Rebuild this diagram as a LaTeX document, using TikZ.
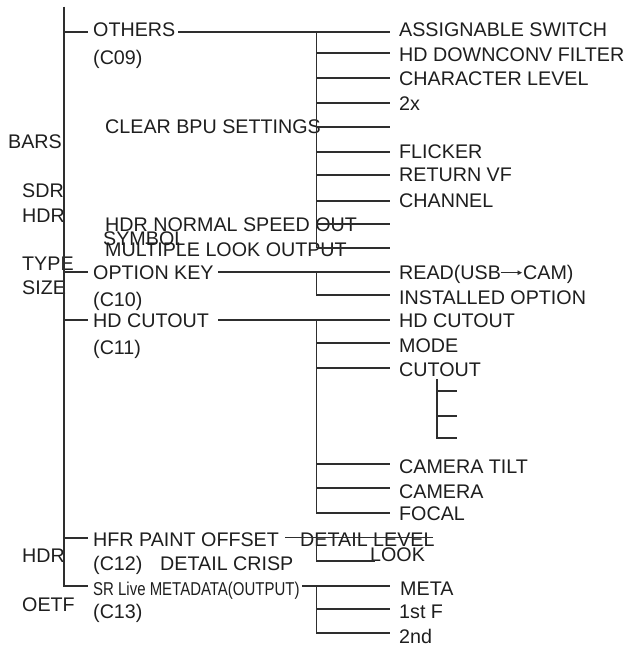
\documentclass[tikz,border=0pt]{standalone}
\usepackage{fontspec}
\usepackage{graphicx}
\setmainfont{Liberation Sans}
\usetikzlibrary{arrows.meta}
\definecolor{ink}{HTML}{1E1E1E}
\definecolor{wirec}{HTML}{2E2E2E}
\begin{document}
\begin{tikzpicture}[x=1pt,y=-1pt,
  lbl/.style={anchor=base west, inner sep=0pt, text=ink, font=\fontsize{19.7}{21}\selectfont},
  wire/.style={draw=wirec, line width=1.9pt, line cap=butt},
  thinarrow/.style={draw=wirec, line width=0.9pt, -{Triangle[length=4.5pt,width=4.5pt]}}]
\useasboundingbox (0,0) rectangle (631,646);

% ---------- left labels ----------
\node[lbl] (bars) at (8,148) {BARS};
\node[lbl] (sdr) at (22,197.7) {SDR};
\node[lbl] (hdra) at (22,222.7) {HDR};
\node[lbl] (type) at (22,270.7) {TYPE};
\node[lbl] (size) at (22,294.3) {SIZE};
\node[lbl] (hdrb) at (22,562.7) {HDR};
\node[lbl] (oetf) at (22,611.7) {OETF};

% ---------- second column ----------
\node[lbl] (others) at (93,36) {OTHERS};
\node[lbl] (c09) at (93,64) {(C09)};
\node[lbl] (clear) at (105,133) {CLEAR BPU SETTINGS};
\node[lbl] (hdrnorm) at (105,231) {HDR NORMAL SPEED OUT};
\node[lbl] (symbol) at (103,245) {SYMBOL};
\node[lbl] (mlook) at (105,256) {MULTIPLE LOOK OUTPUT};
\node[lbl] (optkey) at (93,279) {OPTION KEY};
\node[lbl] (c10) at (93,306) {(C10)};
\node[lbl] (hdcut) at (93,327) {HD CUTOUT};
\node[lbl] (c11) at (93,354) {(C11)};
\node[lbl] (hfr) at (93,546.7) {HFR PAINT OFFSET};
\node[lbl] (c12) at (93,570) {(C12)};
\node[lbl] (crisp) at (160,570) {DETAIL CRISP};
\node[lbl] (srlive) at (93,595) {\fontsize{18.6}{20}\selectfont\scalebox{0.805}[1]{SR Live METADATA(OUTPUT)}};
\node[lbl] (c13) at (93,618) {(C13)};

% ---------- right column ----------
\node[lbl] (assign) at (399,36) {ASSIGNABLE SWITCH};
\node[lbl] (downconv) at (399,61) {HD DOWNCONV FILTER};
\node[lbl] (charlvl) at (399,85) {CHARACTER LEVEL};
\node[lbl] (twox) at (399,110) {2x};
\node[lbl] (flicker) at (399,158) {FLICKER};
\node[lbl] (retvf) at (399,181.7) {RETURN VF};
\node[lbl] (channel) at (399,207) {CHANNEL};
\node[lbl] (reada) at (399,279) {READ(USB};
\node[lbl] (readb) at (523,279) {CAM)};
\node[lbl] (installed) at (399,304) {INSTALLED OPTION};
\node[lbl] (hdcutr) at (399,327) {HD CUTOUT};
\node[lbl] (mode) at (399,352) {MODE};
\node[lbl] (cutout) at (399,376) {CUTOUT};
\node[lbl] (camtilt) at (399,473) {CAMERA TILT};
\node[lbl] (camera) at (399,498) {CAMERA};
\node[lbl] (focal) at (399,520.7) {FOCAL};
\node[lbl] (dlevel) at (300,546.7) {DETAIL LEVEL};
\node[lbl] (look) at (370,561.7) {LOOK};
\node[lbl] (meta) at (400,595) {META};
\node[lbl] (firstf) at (399,618) {1st F};
\node[lbl] (second) at (399,643) {2nd};

% ---------- junction coordinates ----------
\coordinate (ttop) at (64,6.7);
\coordinate (tbot) at (64,586);
\coordinate (vo) at (316.5,31.7);
\coordinate (vk) at (316.5,271.7);
\coordinate (vh) at (316.5,320);
\coordinate (vf) at (316.5,537.5);
\coordinate (vs) at (316.5,586);
\coordinate (sub) at (437,379);

% ---------- trunk ----------
\draw[wire] (ttop) -- (tbot) -- (88,586);
\draw[wire] (64,31.7) -- (88,31.7);
\draw[wire] (64,271.7) -- (88,271.7);
\draw[wire] (64,320) -- (88,320);
\draw[wire] (64,538) -- (88,538);

% ---------- OTHERS ----------
\draw[wire] (178,31.7) -- (390,31.7);
\draw[wire] (vo) -- (316.5,247.7);
\foreach \yy in {53.3,78.3,103.3,126.7,151.7,175,200.7,224,247.7}
  \draw[wire] (316.5,\yy) -- (390,\yy);

% ---------- OPTION KEY ----------
\draw[wire] (218,271.7) -- (390,271.7);
\draw[wire] (vk) -- (316.5,295) -- (390,295);
\draw[thinarrow] (501,272.7) -- (522,272.7);

% ---------- HD CUTOUT ----------
\draw[wire] (218,320) -- (390,320);
\draw[wire] (vh) -- (316.5,513) -- (390,513);
\foreach \yy in {343,368,464,488}
  \draw[wire] (316.5,\yy) -- (390,\yy);
\draw[wire] (sub) -- (437,438) -- (457,438);
\draw[wire] (437,391) -- (457,391);
\draw[wire] (437,416) -- (457,416);

% ---------- HFR PAINT OFFSET ----------
\draw[wire] (285,537.5) -- (433,537.5);
\draw[wire] (vf) -- (316.5,560.7) -- (375,560.7);

% ---------- SR Live METADATA ----------
\draw[wire] (302,586) -- (390,586);
\draw[wire] (vs) -- (316.5,633) -- (390,633);
\draw[wire] (316.5,609) -- (390,609);
\end{tikzpicture}
\end{document}
